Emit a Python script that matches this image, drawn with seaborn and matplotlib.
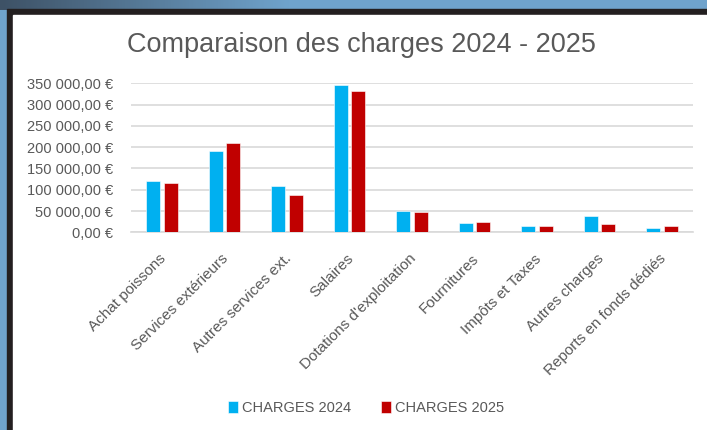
import numpy as np
import pandas as pd
import seaborn as sns
import matplotlib
matplotlib.use("Agg")
import matplotlib.pyplot as plt
import matplotlib.transforms as mtransforms
from matplotlib.patches import Rectangle
from matplotlib.colors import LinearSegmentedColormap
from matplotlib.ticker import FuncFormatter

categories = ["Achat poissons", "Services extérieurs", "Autres services ext.",
              "Salaires", "Dotations d'exploitation", "Fournitures",
              "Impôts et Taxes", "Autres charges", "Reports en fonds dédiés"]
charges_2024 = [120000, 192000, 109000, 346000, 49000, 22000, 14800, 39000, 10000]
charges_2025 = [115000, 210000, 87000, 332000, 47000, 23500, 14500, 19500, 15500]
series = ["CHARGES 2024", "CHARGES 2025"]
colors = ["#00B0F0", "#C00000"]

df = pd.DataFrame({
    "categorie": categories * 2,
    "montant": charges_2024 + charges_2025,
    "serie": [series[0]] * len(categories) + [series[1]] * len(categories),
})

sns.set_theme(style="white")
plt.rcParams["font.family"] = ["Liberation Sans Narrow", "Liberation Sans", "DejaVu Sans"]
grey_txt = "#595959"

fig = plt.figure(figsize=(7.07, 4.30), dpi=100)
fig.patch.set_facecolor("#6FA3CC")

# shadow at the top left of the screenshot
sh = fig.add_axes([0, 1 - 10 / 430, 290 / 707, 10 / 430], zorder=-3)
sh.imshow(np.linspace(0, 1, 100)[None, :], aspect="auto",
          cmap=LinearSegmentedColormap.from_list("sh", ["#3E5266", "#6FA3CC"]))
sh.axis("off")

# dark frame + white card like the screenshot
fig.patches.append(Rectangle((7 / 707, 0), 1, 1 - 9 / 430, transform=fig.transFigure,
                             color="#231F20", zorder=-2))
fig.patches.append(Rectangle((13 / 707, 0), 1, 1 - 15 / 430, transform=fig.transFigure,
                             color="white", zorder=-1))

ax = fig.add_axes([130.7 / 707, 1 - 232.3 / 430, 562.5 / 707, 149 / 430])
ax.set_facecolor("none")
sns.barplot(data=df, x="categorie", y="montant", hue="serie", palette=colors,
            saturation=1, width=0.566, gap=0.21, edgecolor="white",
            linewidth=0.4, ax=ax, zorder=3)

ax.set_ylim(0, 350000)
ax.set_yticks(range(0, 350001, 50000))
ax.yaxis.set_major_formatter(FuncFormatter(
    lambda v, p: f"{v:,.2f}".replace(",", " ").replace(".", ",") + " €"))
ax.grid(axis="y", color="#D9D9D9", linewidth=1.2, zorder=0)
ax.set_axisbelow(True)
for s in ["top", "right", "left"]:
    ax.spines[s].set_visible(False)
ax.spines["bottom"].set_color("#D9D9D9")
ax.spines["bottom"].set_linewidth(1.2)
ax.tick_params(axis="both", length=0, colors=grey_txt)
ax.tick_params(axis="y", pad=12.5, labelsize=10.5)
ax.tick_params(axis="x", pad=14, labelsize=11)
shift = mtransforms.ScaledTranslation(-3 / 100, 0, fig.dpi_scale_trans)
for lab in ax.get_xticklabels():
    lab.set_rotation(45)
    lab.set_ha("right")
    lab.set_va("top")
    lab.set_rotation_mode("anchor")
    lab.set_transform(lab.get_transform() + shift)
ax.set_xlabel("")
ax.set_ylabel("")

fig.text(361 / 707, 1 - 45 / 430, "Comparaison des charges 2024 - 2025",
         ha="center", va="center", fontsize=19.5, color=grey_txt,
         family=["Liberation Sans", "DejaVu Sans"])

handles, labels = ax.get_legend_handles_labels()
ax.legend_.remove()
fig.legend(handles, labels, loc="center", bbox_to_anchor=(366 / 707, 22 / 430),
           ncol=2, frameon=False, handlelength=0.7, handleheight=0.9,
           handletextpad=0.3, columnspacing=2.0, fontsize=10.5,
           labelcolor=grey_txt)

fig.savefig("out.png", dpi=100)
